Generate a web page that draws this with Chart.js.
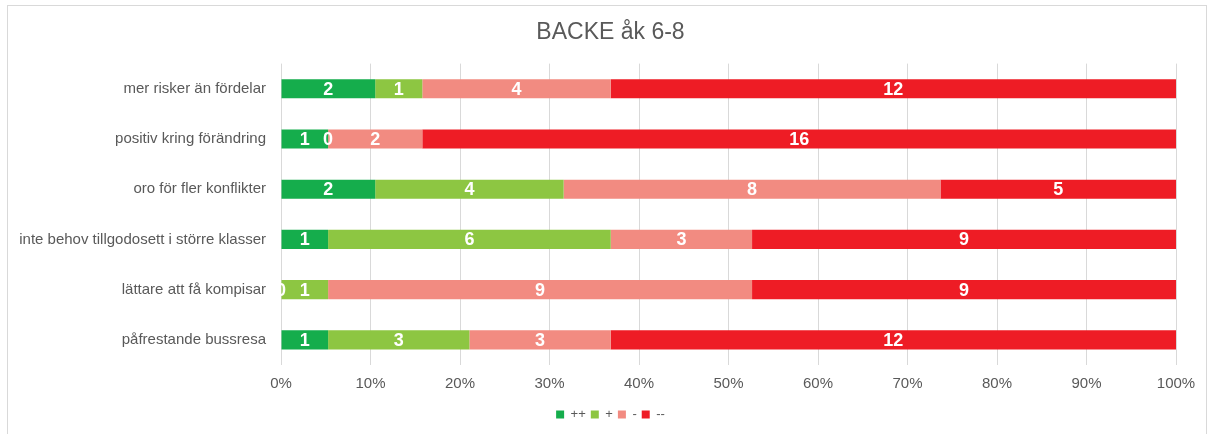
<!DOCTYPE html>
<html>
<head>
<meta charset="utf-8">
<script src="https://cdn.jsdelivr.net/npm/chart.js@4"></script>
<style>
  body { margin: 0; background: #fff; }
  #frame {
    position: absolute; left: 7px; top: 5px; width: 1200px; height: 440px;
    border: 1px solid #d9d9d9; box-sizing: border-box;
  }
  #wrap { position: absolute; left: 1px; top: 0; width: 1197px; height: 429px; }
</style>
</head>
<body>
<div id="frame">
  <div id="wrap"><canvas id="chart"></canvas></div>
</div>
<script>
const categories = [
  'mer risker än fördelar',
  'positiv kring förändring',
  'oro för fler konflikter',
  'inte behov tillgodosett i större klasser',
  'lättare att få kompisar',
  'påfrestande bussresa'
];
const seriesNames = ['++', '+', '-', '--'];
const plusPlus   = [2, 1, 2, 1, 0, 1];
const plus       = [1, 0, 4, 6, 1, 3];
const minus      = [4, 2, 8, 3, 9, 3];
const minusMinus = [12, 16, 5, 9, 9, 12];
const xTicks = [0, 10, 20, 30, 40, 50, 60, 70, 80, 90, 100];

const colors = ['#15ad4c', '#8dc642', '#f28b81', '#ee1c25'];
const counts = [plusPlus, plus, minus, minusMinus];
const FONT = '"Liberation Sans", Arial, sans-serif';

// turn counts into percent of each row
const totals = categories.map((_, i) => counts.reduce((s, arr) => s + arr[i], 0));
const datasets = counts.map((arr, k) => ({
  label: seriesNames[k],
  data: arr.map((v, i) => v / totals[i] * 100),
  raw: arr,
  backgroundColor: colors[k],
  borderWidth: 0,
  barPercentage: 0.38,
  categoryPercentage: 1
}));

// white count labels in the middle of each segment
const segmentLabels = {
  id: 'segmentLabels',
  afterDatasetsDraw(chart) {
    const { ctx, chartArea } = chart;
    ctx.save();
    ctx.beginPath();
    ctx.rect(chartArea.left, chartArea.top, chartArea.width, chartArea.height);
    ctx.clip();
    ctx.fillStyle = '#fff';
    ctx.font = 'bold 18px ' + FONT;
    ctx.textAlign = 'center';
    ctx.textBaseline = 'middle';
    chart.data.datasets.forEach((ds, k) => {
      chart.getDatasetMeta(k).data.forEach((bar, i) => {
        ctx.fillText(String(ds.raw[i]), (bar.x + bar.base) / 2, bar.y + 1);
      });
    });
    ctx.restore();
  }
};

// title and legend sit centred on the whole frame, not on the plot box
const centreBlocks = {
  id: 'centreBlocks',
  afterLayout(chart) {
    chart.titleBlock.left += 36;
    chart.legend.left += 36;
  }
};

new Chart(document.getElementById('chart'), {
  type: 'bar',
  data: { labels: categories, datasets },
  plugins: [segmentLabels, centreBlocks],
  options: {
    indexAxis: 'y',
    responsive: true,
    maintainAspectRatio: false,
    animation: false,
    layout: { padding: { top: 8, right: 30, left: 0, bottom: 4 } },
    plugins: {
      title: {
        display: true,
        text: 'BACKE åk 6-8',
        color: '#595959',
        font: { family: FONT, size: 23, weight: 'normal' },
        padding: { top: 5, bottom: 17 }
      },
      legend: {
        position: 'bottom',
        labels: {
          boxWidth: 8, boxHeight: 8, padding: 5,
          color: '#595959',
          font: { family: FONT, size: 13 }
        }
      },
      tooltip: { enabled: false }
    },
    scales: {
      x: {
        stacked: true,
        min: 0, max: 100,
        afterBuildTicks: (scale) => { scale.ticks = xTicks.map(v => ({ value: v })); },
        ticks: {
          callback: v => v + '%',
          color: '#595959',
          padding: 10,
          font: { family: FONT, size: 15 }
        },
        grid: { color: '#d9d9d9', drawTicks: false },
        border: { display: false }
      },
      y: {
        stacked: true,
        afterFit: (scale) => { scale.width = 272; },
        ticks: {
          color: '#595959',
          padding: 7,
          font: { family: FONT, size: 15 }
        },
        grid: { display: false },
        border: { display: false }
      }
    }
  }
});
</script>
</body>
</html>
